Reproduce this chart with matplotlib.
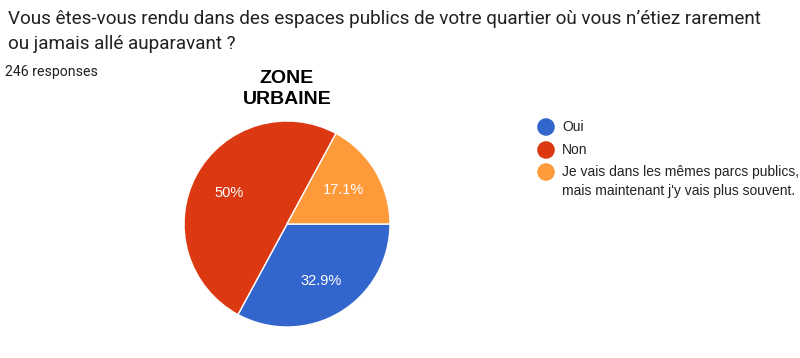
import numpy as np
import matplotlib.pyplot as plt

# donnees du graphique
labels = ['Oui', 'Non', "Je vais dans les mêmes parcs publics,\nmais maintenant j'y vais plus souvent."]
valeurs = [32.9, 50.0, 17.1]
couleurs = ['#3366cc', '#dc3912', '#ff9a3b']
pct_labels = ['32.9%', '50%', '17.1%']

question = ["Vous êtes-vous rendu dans des espaces publics de votre quartier où vous n’étiez rarement",
            "ou jamais allé auparavant ?"]
n_reponses = '246 responses'
zone = 'ZONE\nURBAINE'

fig = plt.figure(figsize=(8, 3.58), dpi=100)
fig.patch.set_facecolor('white')

fig.text(8 / 800, 1 - 24 / 358, question[0], family='Roboto',
         fontsize=13.6, color='#202124', va='baseline')
fig.text(8 / 800, 1 - 49 / 358, question[1], family='Roboto',
         fontsize=13.6, color='#202124', va='baseline')
fig.text(5 / 800, 1 - 76 / 358, n_reponses, family='Roboto',
         fontsize=10.2, color='#202124', va='baseline')

fig.text(287 / 800, 1 - 89 / 358, zone, family='Liberation Sans', weight='bold',
         fontsize=14, color='black', ha='center', va='center', linespacing=1.25)

ax = fig.add_axes([184 / 800, 31 / 358, 206 / 800, 206 / 358])
ax.pie(valeurs, colors=couleurs, startangle=0, counterclock=False,
       wedgeprops=dict(edgecolor='white', linewidth=1))
ax.set_aspect('equal')
ax.set_xlim(-1, 1)
ax.set_ylim(-1, 1)

# etiquettes de pourcentage
ang = 0.0
for v, t in zip(valeurs, pct_labels):
    mid = ang - v / 100 * 180
    ang -= v / 100 * 360
    r = 0.64
    ax.text(r * np.cos(np.radians(mid)), r * np.sin(np.radians(mid)), t,
            family='Liberation Sans', fontsize=10.5, color='white',
            ha='center', va='center')

# legende
lax = fig.add_axes([0, 0, 1, 1])
lax.set_xlim(0, 800)
lax.set_ylim(358, 0)
lax.axis('off')
ys = [127, 150, 172]
for y, c, lab in zip(ys, couleurs, labels):
    lax.scatter([546], [y], s=160, color=c, edgecolors='none')
    if '\n' in lab:
        lax.text(562, y - 7, lab, family='Liberation Sans', fontsize=10,
                 color='#222222', va='top', linespacing=1.45)
    else:
        lax.text(562, y, lab, family='Liberation Sans', fontsize=10,
                 color='#222222', va='center')

plt.savefig('out.png', dpi=100)
